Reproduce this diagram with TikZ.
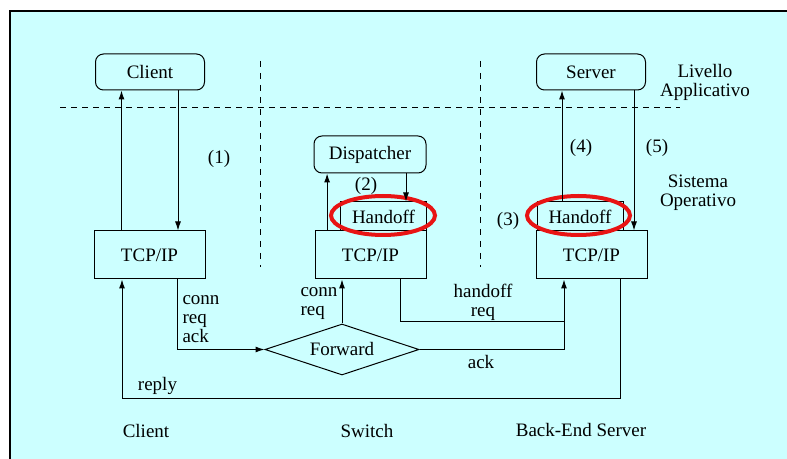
\documentclass[tikz,border=0pt]{standalone}
\usepackage{fontspec}
\setmainfont{LiberationSerif}[Extension=.ttf, UprightFont=*-Regular, BoldFont=*-Bold]
\usetikzlibrary{shapes.geometric,arrows.meta}
\definecolor{sfondo}{RGB}{204,255,255}
\definecolor{anellorosso}{RGB}{232,20,20}

\begin{document}
\begin{tikzpicture}[x=0.5pt, y=-0.5pt, line width=0.5pt,
every node/.style={inner sep=0pt, font=\rmfamily\fontsize{9.5}{9.5}\selectfont},
app/.style={draw, rounded corners=4pt, minimum width=54.5pt, minimum height=18pt},
strato/.style={draw, minimum width=55.5pt, minimum height=24pt},
hoff/.style={draw, minimum width=43pt, minimum height=14.5pt},
anello/.style={ellipse, draw=anellorosso, line width=2pt, minimum height=19.5pt},
>={Latex[length=4.5pt,width=3pt]}
]
\useasboundingbox (0,0) rectangle (787,459);
\clip (0,0) rectangle (787,459);
\fill[sfondo] (10,11) rectangle (800,470);
\draw[line width=0.8pt] (10,470) -- (10,11) -- (800,11);

% livelli e colonne
\draw[dash pattern=on 3pt off 2.5pt] (60,108) -- (680,108);
\foreach \x in {260,480}
    \draw[dash pattern=on 3pt off 3pt] (\x,61) -- (\x,267);

\node[app] (capp) at (150,72) {Client};
\node[app] (sapp) at (591,72) {Server};
\node[app, minimum width=56pt, minimum height=18.5pt] (disp) at (370,154.5) {Dispatcher};
\node[strato] (ctcp) at (149.5,255) {TCP/IP};
\node[strato] (stcp) at (370.5,255) {TCP/IP};
\node[strato] (btcp) at (591.5,255) {TCP/IP};
\node[hoff] (shoff) at (383.5,216.5) {Handoff};
\node[hoff] (bhoff) at (580,216.5) {Handoff};
\node[diamond, draw, aspect=3, minimum width=77pt, minimum height=25.5pt] (fwd) at (342,349.5) {Forward};
\node[anello, minimum width=52pt] (ashoff) at (383,215.5) {};
\node[anello, minimum width=51.5pt] (abhoff) at (578.5,215.5) {};

\node (n1) at (219,159) {(1)};
\node (n2) at (366,186) {(2)};
\node (n3) at (508,221) {(3)};
\node (n4) at (581,148) {(4)};
\node (n5) at (657,148) {(5)};
\node[align=center] (liv) at (705,82.5) {Livello\\Applicativo};
\node[align=center] (sis) at (698,193) {Sistema\\Operativo};
\node[align=left, anchor=west] (cra) at (182,319) {conn\\req\\ack};
\node[align=left, anchor=west] (cr) at (300,303.5) {conn\\req};
\node[align=center] (hr) at (483,302.5) {handoff\\req};
\node (ack) at (481,362) {ack};
\node (rep) at (157.5,386) {reply};
\node (lc) at (146,431) {Client};
\node (ls) at (367,431) {Switch};
\node (lb) at (581,430) {Back-End Server};

% frecce verticali
\foreach \da/\a/\s in {ctcp/capp/-14pt, stcp/disp/-21.7pt, bhoff/sapp/-9pt}
    \draw[->] ([xshift=\s]\da.north) coordinate (p) -- (p |- \a.south);
\foreach \da/\a/\s in {capp/ctcp/14pt, disp/shoff/18pt, sapp/btcp/21.5pt}
    \draw[->] ([xshift=\s]\da.south) coordinate (p) -- (p |- \a.north);

\coordinate (hreq) at (564,322);
\coordinate (rply) at (122,398.5);
\draw[->] ([xshift=14pt]ctcp.south) |- (fwd.west);
\draw[->] (fwd.north) -- (fwd.north |- stcp.south);
\draw[->] ([xshift=15pt]stcp.south) |- (hreq) -- (hreq |- btcp.south);
\draw (fwd.east) -| (hreq);
\draw[->] ([xshift=14.5pt]btcp.south) |- (rply) -- (rply |- ctcp.south);
\end{tikzpicture}
\end{document}
